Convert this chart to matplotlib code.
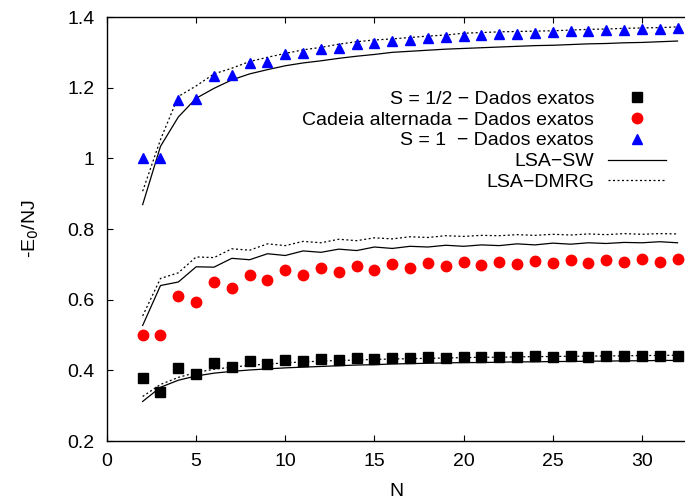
import numpy as np
import matplotlib
matplotlib.use('Agg')
import matplotlib.pyplot as plt

plt.rcParams['font.family'] = ['Liberation Sans', 'DejaVu Sans']

N = list(range(2, 33))

# S = 1/2 exact data
half_exact = [0.378, 0.340, 0.407, 0.391, 0.421, 0.410, 0.427, 0.418, 0.430, 0.427,
              0.432, 0.430, 0.434, 0.432, 0.435, 0.434, 0.438, 0.435, 0.438, 0.437,
              0.438, 0.437, 0.440, 0.438, 0.440, 0.438, 0.441, 0.440, 0.441, 0.440, 0.441]
half_sw = [0.312, 0.352, 0.372, 0.384, 0.392, 0.397, 0.401, 0.404, 0.407, 0.409,
           0.411, 0.413, 0.415, 0.416, 0.418, 0.419, 0.420, 0.421, 0.422, 0.422,
           0.423, 0.424, 0.424, 0.425, 0.425, 0.426, 0.426, 0.427, 0.427, 0.428, 0.428]
half_dmrg = [0.326, 0.360, 0.380, 0.394, 0.403, 0.409, 0.414, 0.418, 0.421, 0.424,
             0.426, 0.428, 0.429, 0.431, 0.432, 0.433, 0.434, 0.435, 0.436, 0.437,
             0.437, 0.438, 0.439, 0.439, 0.440, 0.440, 0.441, 0.441, 0.442, 0.442, 0.443]

# alternating chain
alt_exact = [0.500, 0.500, 0.611, 0.594, 0.651, 0.633, 0.671, 0.655, 0.683, 0.669,
             0.690, 0.678, 0.696, 0.685, 0.701, 0.690, 0.703, 0.694, 0.706, 0.698,
             0.708, 0.700, 0.710, 0.703, 0.712, 0.704, 0.713, 0.706, 0.714, 0.707, 0.715]
alt_sw = [0.527, 0.640, 0.650, 0.693, 0.692, 0.717, 0.713, 0.730, 0.725, 0.738,
          0.734, 0.743, 0.739, 0.749, 0.745, 0.751, 0.749, 0.754, 0.751, 0.755,
          0.753, 0.758, 0.755, 0.760, 0.757, 0.761, 0.759, 0.762, 0.761, 0.764, 0.761]
alt_dmrg = [0.554, 0.660, 0.676, 0.721, 0.719, 0.744, 0.740, 0.758, 0.753, 0.765,
            0.761, 0.771, 0.767, 0.775, 0.772, 0.778, 0.776, 0.781, 0.779, 0.782,
            0.781, 0.784, 0.782, 0.785, 0.783, 0.786, 0.784, 0.787, 0.785, 0.787, 0.786]

# S = 1 exact data
one_exact = [1.000, 1.000, 1.166, 1.169, 1.232, 1.237, 1.270, 1.274, 1.295, 1.297,
             1.310, 1.313, 1.323, 1.326, 1.332, 1.335, 1.340, 1.342, 1.346, 1.349,
             1.351, 1.353, 1.355, 1.358, 1.359, 1.360, 1.362, 1.364, 1.366, 1.366, 1.368]
one_sw = [0.869, 1.034, 1.117, 1.170, 1.198, 1.222, 1.239, 1.251, 1.262, 1.270,
          1.276, 1.283, 1.289, 1.294, 1.300, 1.303, 1.306, 1.309, 1.311, 1.313,
          1.315, 1.317, 1.319, 1.320, 1.322, 1.324, 1.325, 1.327, 1.328, 1.330, 1.332]
one_dmrg = [0.907, 1.053, 1.175, 1.205, 1.239, 1.255, 1.274, 1.286, 1.297, 1.307,
            1.314, 1.323, 1.330, 1.335, 1.338, 1.342, 1.346, 1.349, 1.354, 1.356,
            1.358, 1.359, 1.360, 1.361, 1.363, 1.365, 1.366, 1.368, 1.369, 1.370, 1.372]

fs = 14

fig = plt.figure(figsize=(6.85, 5.04), dpi=100)
ax = fig.add_axes([107/685, 63/504, 578/685, 424/504])

dots = (0, (1.6, 2.0))
for sw, dm in [(half_sw, half_dmrg), (alt_sw, alt_dmrg), (one_sw, one_dmrg)]:
    ax.plot(N, sw, color='black', lw=0.9)
    ax.plot(N, dm, color='black', lw=0.9, linestyle=dots)

h1, = ax.plot(N, half_exact, 's', color='black', ms=7.2, ls='none',
              label='S = 1/2 \u2212 Dados exatos')
h2, = ax.plot(N, alt_exact, 'o', color='red', ms=7.5, ls='none',
              label='Cadeia alternada \u2212 Dados exatos')
h3, = ax.plot(N, one_exact, '^', color='blue', ms=6.5, ls='none',
              label='S = 1  \u2212 Dados exatos')
h4, = ax.plot([], [], color='black', lw=0.9, label='LSA\u2212SW')
h5, = ax.plot([], [], color='black', lw=0.9, linestyle=dots, label='LSA\u2212DMRG')

ax.set_xlim(0, 578 / 17.83)
ax.set_ylim(0.2, 1.4)
ax.set_xticks([0, 5, 10, 15, 20, 25, 30])
ax.set_yticks([0.2, 0.4, 0.6, 0.8, 1.0, 1.2, 1.4])
ax.set_yticklabels(['0.2', '0.4', '0.6', '0.8', '1', '1.2', '1.4'])
ax.tick_params(direction='in', length=4.5, width=0.8, labelsize=fs,
               top=True, right=False, pad=9)
ax.tick_params(axis='y', pad=9)
ax.spines['right'].set_visible(False)
for s in ['left', 'bottom', 'top']:
    ax.spines[s].set_linewidth(1.0)

ax.set_xlabel('N', fontsize=fs, labelpad=9)
ax.set_ylabel('-E$_0$/NJ', fontsize=fs, labelpad=19)

ax.legend(handles=[h1, h2, h3, h4, h5], loc='upper right',
          bbox_to_anchor=((666 - 107) / 578, (441 - 90) / 424),
          frameon=False, markerfirst=False, numpoints=1, fontsize=fs,
          handlelength=3.0, handletextpad=0.7, labelspacing=0.17,
          borderpad=0, borderaxespad=0)

fig.savefig('out.png', dpi=100)
